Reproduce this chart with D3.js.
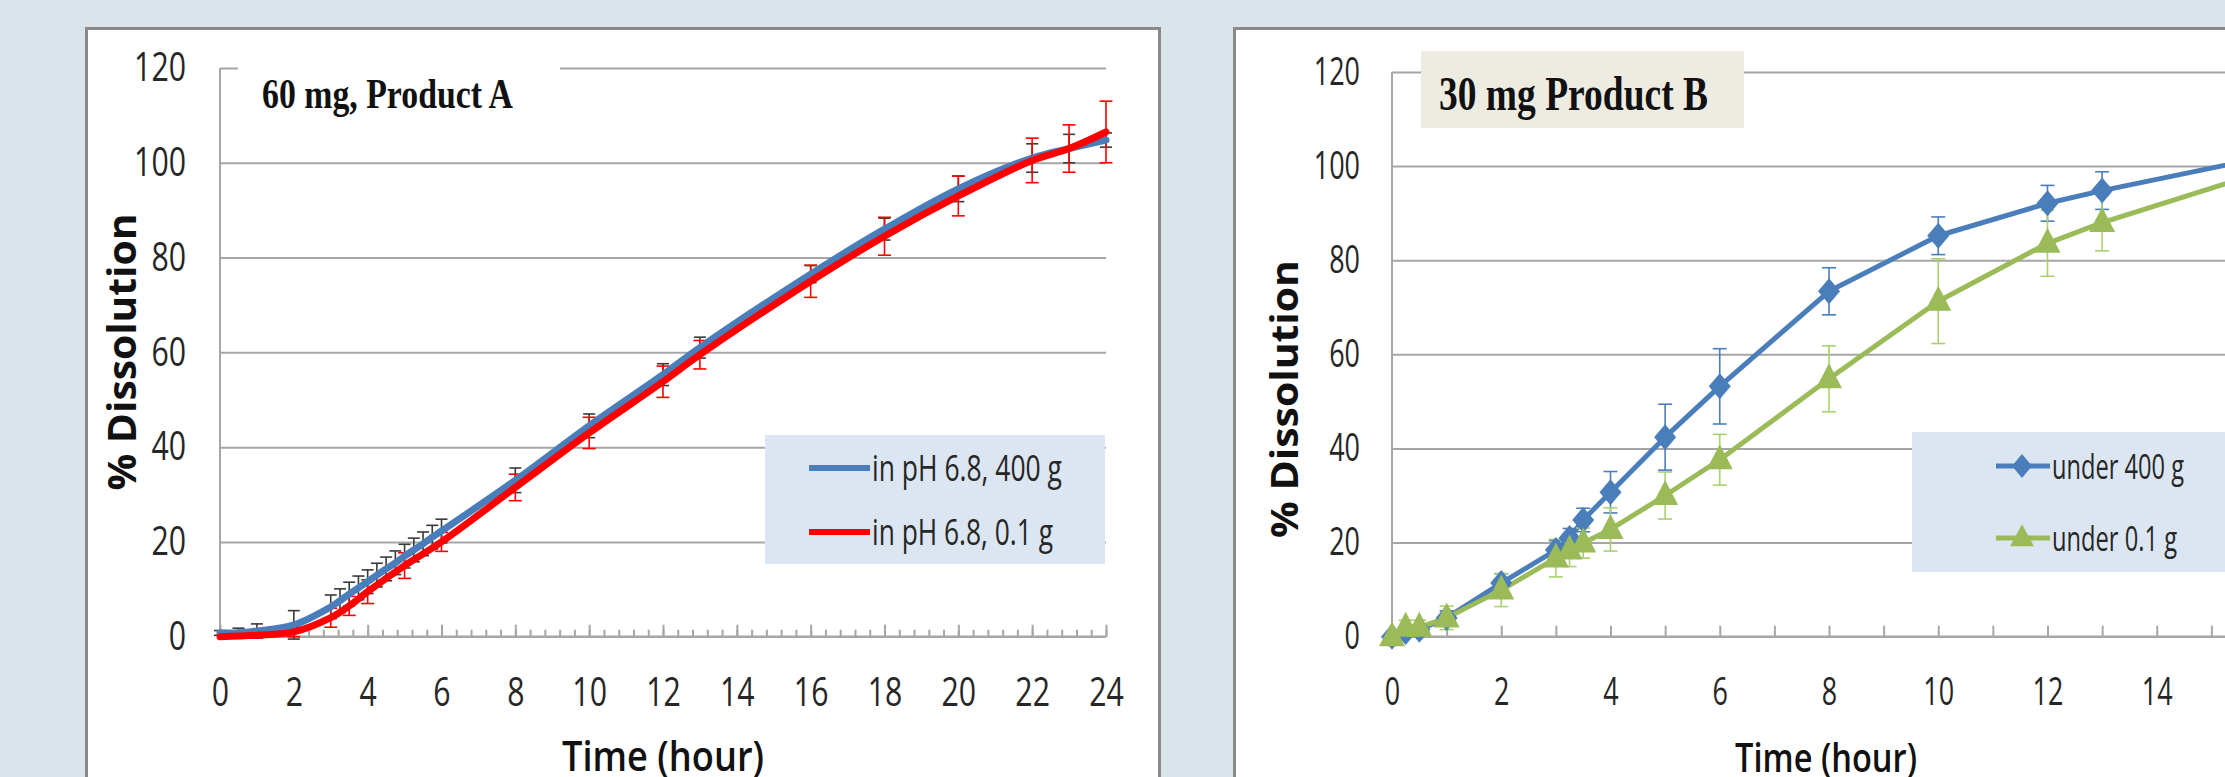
<!DOCTYPE html>
<html>
<head>
<meta charset="utf-8">
<script src="https://cdn.jsdelivr.net/npm/d3@7"></script>
<style>
  html, body { margin: 0; padding: 0; background: #d9e4eb; }
  svg { display: block; }
</style>
</head>
<body>
<svg id="chart" width="2225" height="777"></svg>
<script>
// Dissolution profiles, two products.

// --- Product A (60 mg), smoothed curves ---
const timeA400 = [0, 0.5, 1, 2, 3, 3.25, 3.5, 3.75, 4, 4.25, 4.5, 4.75, 5, 5.25, 5.5, 5.75, 6, 8, 10, 12, 13, 16, 18, 20, 22, 23, 24];
const meanA400 = [0.8, 0.8, 1.2, 2.5, 6.3, 7.6, 9, 10.3, 11.6, 13, 14.3, 15.6, 17, 18.3, 19.6, 21, 22.3, 33, 44.5, 55.3, 61, 76.5, 86, 94.5, 101, 103, 104.8];
const sdA400   = [0.5, 1, 1.5, 3, 2.5, 2.5, 2.5, 2.5, 2.5, 2.5, 2.5, 2.5, 2.5, 2.5, 2.5, 2.5, 2.5, 2.6, 2.5, 2.3, 2.2, 1.8, 2.3, 2.7, 3, 3, 1.5];

const timeA01 = [0, 1, 2, 3, 3.5, 4, 5, 6, 8, 10, 12, 13, 16, 18, 20, 22, 23, 24];
const meanA01 = [0, 0.3, 1, 4, 6.5, 9.5, 15, 20, 31.5, 43, 53.8, 59.5, 75, 84.5, 93, 100.5, 103, 106.5];
const sdA01   = [0, 0.5, 1, 2, 2, 2.5, 2.7, 2, 2.8, 3.3, 3.3, 3, 3.4, 4, 4.2, 4.7, 5, 6.5];

// --- Product B (30 mg), straight segments with markers ---
const timeB = [0, 0.25, 0.5, 1, 2, 3, 3.25, 3.5, 4, 5, 6, 8, 10, 12, 13, 16];
const meanB400 = [0, 1, 1.5, 4, 11.4, 18.4, 21, 24.8, 30.7, 42.4, 53.2, 73.4, 85.2, 92.1, 94.8, 102];
const sdB400   = [0.5, 1, 1, 1.5, 2, 2, 2, 2.5, 4.4, 7, 8, 5, 4, 3.8, 4, 3];
const meanB01  = [0, 2, 2, 4, 9.9, 16.7, 18.4, 19.9, 22.8, 30, 37.6, 54.8, 71.3, 83.6, 88, 99];
const sdB01    = [0.5, 1.5, 1.5, 2.5, 3.5, 4, 3.5, 3.2, 4.6, 5, 5.4, 7, 9, 7, 6, 4];

const yTicks = [0, 20, 40, 60, 80, 100, 120];
const xTicksA = d3.range(0, 25, 2);
const xTicksB = d3.range(0, 17, 2);

const BLUE = '#4a7ebb', RED = '#ff0000', GREEN = '#9bbb59';
const GRID = '#a6a6a6', INK = '#262626';
const FONT = "'Open Sans', 'DejaVu Sans', sans-serif";
const SERIF = "'Liberation Serif', 'DejaVu Serif', serif";

const svg = d3.select('#chart');
svg.append('rect').attr('width', 2225).attr('height', 777).attr('fill', '#d9e4eb');

// panels
svg.append('rect').attr('x', 86.5).attr('y', 28.5).attr('width', 1073).attr('height', 800)
  .attr('fill', '#fff').attr('stroke', '#8a8a8a').attr('stroke-width', 3);
svg.append('rect').attr('x', 1234.5).attr('y', 28.5).attr('width', 1100).attr('height', 800)
  .attr('fill', '#fff').attr('stroke', '#8a8a8a').attr('stroke-width', 3);

function frame(x, y, opt) {
  const [x0, x1] = x.range();
  const g = svg.append('g');

  // gridlines
  g.append('g')
    .call(d3.axisLeft(y).tickValues(yTicks.slice(1)).tickSize(-(x1 - x0)).tickFormat(''))
    .attr('transform', `translate(${x0},0)`)
    .call(a => a.select('.domain').remove())
    .call(a => a.selectAll('line').attr('stroke', GRID).attr('stroke-width', 2));

  // y axis line and x baseline
  g.append('line').attr('x1', x0).attr('x2', x0).attr('y1', y(120)).attr('y2', y(0))
    .attr('stroke', GRID).attr('stroke-width', 2);
  g.append('line').attr('x1', x0).attr('x2', x1).attr('y1', y(0)).attr('y2', y(0))
    .attr('stroke', GRID).attr('stroke-width', 2.5);

  // tick marks pointing up
  opt.marks.forEach(m => {
    g.append('g').attr('transform', `translate(0,${y(0)})`)
      .call(d3.axisTop(x).tickValues(m.values).tickSize(m.size).tickFormat(''))
      .call(a => a.select('.domain').remove())
      .call(a => a.selectAll('line').attr('stroke', GRID).attr('stroke-width', 2));
  });

  // y tick labels
  g.append('g').attr('transform', `translate(${x0},0)`)
    .call(d3.axisLeft(y).tickValues(yTicks).tickSize(0).tickPadding(opt.yPad))
    .call(a => a.select('.domain').remove())
    .call(a => a.selectAll('text')
      .attr('font-family', FONT).attr('font-size', opt.tickFont).attr('fill', INK)
      .attr('textLength', d => String(d).length * opt.digitW).attr('lengthAdjust', 'spacingAndGlyphs'));

  // x tick labels
  g.append('g').attr('transform', `translate(0,${y(0)})`)
    .call(d3.axisBottom(x).tickValues(opt.xTicks).tickSize(0).tickPadding(opt.xPad))
    .call(a => a.select('.domain').remove())
    .call(a => a.selectAll('text')
      .attr('font-family', FONT).attr('font-size', opt.tickFont).attr('fill', INK)
      .attr('textLength', d => String(d).length * opt.digitW).attr('lengthAdjust', 'spacingAndGlyphs'));

  // axis titles
  g.append('text').attr('transform', `translate(${opt.yLab[0]},${opt.yLab[1]}) rotate(-90)`)
    .attr('text-anchor', 'middle').attr('dominant-baseline', 'central')
    .attr('font-family', FONT).attr('font-weight', 'bold').attr('font-size', opt.yLabFont).attr('fill', '#111')
    .attr('textLength', opt.yLabLen).attr('lengthAdjust', 'spacingAndGlyphs')
    .text('% Dissolution');
  g.append('text').attr('x', (x0 + opt.xLabCenter)).attr('y', opt.xLabY)
    .attr('text-anchor', 'middle')
    .attr('font-family', FONT).attr('font-weight', 600).attr('font-size', opt.xLabFont).attr('fill', '#111')
    .attr('textLength', opt.xLabLen).attr('lengthAdjust', 'spacingAndGlyphs')
    .text('Time (hour)');
  return g;
}

function errorBars(g, x, y, t, m, s, color, cap) {
  const bars = g.append('g').attr('stroke', color).attr('stroke-width', 1.6).attr('fill', 'none');
  t.forEach((ti, i) => {
    if (!s[i]) return;
    const cx = x(ti), lo = y(m[i] - s[i]), hi = y(m[i] + s[i]);
    bars.append('line').attr('x1', cx).attr('x2', cx).attr('y1', lo).attr('y2', hi);
    bars.append('line').attr('x1', cx - cap).attr('x2', cx + cap).attr('y1', lo).attr('y2', lo);
    bars.append('line').attr('x1', cx - cap).attr('x2', cx + cap).attr('y1', hi).attr('y2', hi);
  });
}

function series(g, x, y, t, m, color, width, curve) {
  const line = d3.line().x((d, i) => x(t[i])).y(d => y(d)).curve(curve);
  g.append('path').datum(m).attr('d', line)
    .attr('fill', 'none').attr('stroke', color).attr('stroke-width', width)
    .attr('stroke-linejoin', 'round').attr('stroke-linecap', 'round');
}

const diamond = (cx, cy, w, h) => `M${cx},${cy - h}L${cx + w},${cy}L${cx},${cy + h}L${cx - w},${cy}Z`;
const triangle = (cx, cy, w, h) => `M${cx},${cy - h * 0.62}L${cx + w},${cy + h * 0.38}L${cx - w},${cy + h * 0.38}Z`;

// ================= Panel A =================
const xA = d3.scaleLinear().domain([0, 24]).range([220, 1106]);
const yA = d3.scaleLinear().domain([0, 120]).range([636.7, 68]);
const gA = frame(xA, yA, {
  marks: [{ values: d3.range(61).map(i => i * 0.4), size: 7 }, { values: xTicksA, size: 12 }],
  xTicks: xTicksA, yPad: 34, xPad: 41, tickFont: 40, digitW: 17.3,
  yLab: [120, 352], yLabFont: 39, yLabLen: 277,
  xLabCenter: 443, xLabY: 771, xLabFont: 41, xLabLen: 202
});

// title box covers the top gridline
gA.append('rect').attr('x', 238).attr('y', 40).attr('width', 322).attr('height', 62).attr('fill', '#fff');
gA.append('text').attr('x', 262).attr('y', 108)
  .attr('font-family', SERIF).attr('font-weight', 'bold').attr('font-size', 43).attr('fill', '#111')
  .attr('textLength', 251).attr('lengthAdjust', 'spacingAndGlyphs')
  .text('60 mg, Product A');

errorBars(gA, xA, yA, timeA400, meanA400, sdA400, '#3a3a3a', 6);
errorBars(gA, xA, yA, timeA01, meanA01, sdA01, RED, 6.5);
series(gA, xA, yA, timeA400, meanA400, BLUE, 7, d3.curveCatmullRom.alpha(0.5));
series(gA, xA, yA, timeA01, meanA01, RED, 7, d3.curveCatmullRom.alpha(0.5));

// legend A
const legA = gA.append('g');
legA.append('rect').attr('x', 765).attr('y', 435).attr('width', 340).attr('height', 129).attr('fill', '#dce6f2');
[
  { label: 'in pH 6.8, 400 g', color: BLUE, y: 468, len: 190 },
  { label: 'in pH 6.8, 0.1 g', color: RED, y: 532, len: 181 }
].forEach(d => {
  legA.append('line').attr('x1', 809).attr('x2', 870).attr('y1', d.y).attr('y2', d.y)
    .attr('stroke', d.color).attr('stroke-width', 6);
  legA.append('text').attr('x', 872).attr('y', d.y + 13)
    .attr('font-family', FONT).attr('font-size', 36).attr('fill', INK)
    .attr('textLength', d.len).attr('lengthAdjust', 'spacingAndGlyphs')
    .text(d.label);
});

// ================= Panel B =================
const xB = d3.scaleLinear().domain([0, 16]).range([1392, 2266]);
const yB = d3.scaleLinear().domain([0, 120]).range([636.7, 72]);
const gB = frame(xB, yB, {
  marks: [{ values: d3.range(17), size: 11 }],
  xTicks: xTicksB, yPad: 32, xPad: 41, tickFont: 38, digitW: 15.4,
  yLab: [1283, 399], yLabFont: 38, yLabLen: 278,
  xLabCenter: 434, xLabY: 772, xLabFont: 39, xLabLen: 182
});

gB.append('rect').attr('x', 1421).attr('y', 51).attr('width', 323).attr('height', 77).attr('fill', '#eeece1');
gB.append('text').attr('x', 1439).attr('y', 110)
  .attr('font-family', SERIF).attr('font-weight', 'bold').attr('font-size', 49).attr('fill', '#111')
  .attr('textLength', 269).attr('lengthAdjust', 'spacingAndGlyphs')
  .text('30 mg Product B');

series(gB, xB, yB, timeB, meanB400, BLUE, 5, d3.curveLinear);
series(gB, xB, yB, timeB, meanB01, GREEN, 5, d3.curveLinear);
errorBars(gB, xB, yB, timeB, meanB400, sdB400, BLUE, 7);
errorBars(gB, xB, yB, timeB, meanB01, sdB01, '#a9d16f', 7);

gB.append('g').selectAll('path').data(meanB400).join('path')
  .attr('d', (d, i) => diamond(xB(timeB[i]), yB(d), 11, 13)).attr('fill', BLUE);
gB.append('g').selectAll('path').data(meanB01).join('path')
  .attr('d', (d, i) => triangle(xB(timeB[i]), yB(d), 13, 25)).attr('fill', GREEN);

// legend B
const legB = gB.append('g');
legB.append('rect').attr('x', 1912).attr('y', 432).attr('width', 400).attr('height', 140).attr('fill', '#dce6f2');
[
  { label: 'under 400 g', color: BLUE, y: 466, len: 132, mark: diamond },
  { label: 'under 0.1 g', color: GREEN, y: 538, len: 125, mark: triangle }
].forEach(d => {
  legB.append('line').attr('x1', 1996).attr('x2', 2050).attr('y1', d.y).attr('y2', d.y)
    .attr('stroke', d.color).attr('stroke-width', 5);
  legB.append('path').attr('d', d.mark === diamond ? diamond(2022, d.y, 10, 12) : triangle(2022, d.y, 12, 22))
    .attr('fill', d.color);
  legB.append('text').attr('x', 2052).attr('y', d.y + 13)
    .attr('font-family', FONT).attr('font-size', 35).attr('fill', INK)
    .attr('textLength', d.len).attr('lengthAdjust', 'spacingAndGlyphs')
    .text(d.label);
});
</script>
</body>
</html>
